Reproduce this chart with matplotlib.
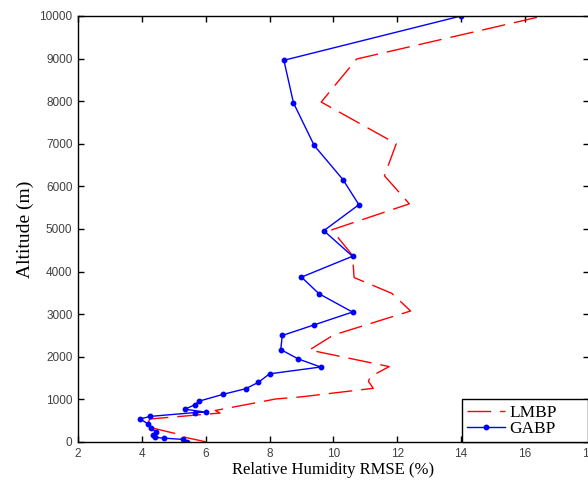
import numpy as np
import matplotlib
matplotlib.use("Agg")
import matplotlib.pyplot as plt

# LMBP (red dashed)
lmbp_x = [6.03, 5.35, 5.1, 4.15, 4.25, 6.45, 6.3, 8.2, 9.0, 11.25, 11.1, 11.15, 11.75,
          9.25, 10.0, 12.42, 11.83, 10.65, 10.6, 9.95, 12.38, 11.6, 11.97, 9.62, 10.73, 16.57]
lmbp_y = [0, 110, 190, 360, 540, 680, 740, 1010, 1060, 1260, 1420, 1530, 1770,
          2160, 2510, 3075, 3490, 3860, 4380, 4980, 5590, 6250, 7000, 7980, 8990, 10000]

# GABP (blue with dots)
gabp_x = [5.4, 5.3, 4.7, 4.4, 4.35, 4.45, 4.3, 4.2, 3.95, 4.25, 5.65, 6.0, 5.35, 5.65,
          5.8, 6.55, 7.25, 7.65, 8.0, 9.6, 8.9, 8.35, 8.4, 9.4, 10.6, 9.55, 9.0, 10.6,
          9.7, 10.8, 10.3, 9.4, 8.75, 8.45, 14.0]
gabp_y = [0, 60, 90, 110, 160, 240, 320, 420, 540, 600, 690, 700, 770, 870,
          960, 1120, 1250, 1400, 1600, 1760, 1950, 2170, 2500, 2750, 3050, 3480, 3870, 4360,
          4960, 5570, 6160, 6960, 7960, 8960, 10000]

xticks = [2, 4, 6, 8, 10, 12, 14, 16, 18]
yticks = np.arange(0, 10001, 1000)

fig = plt.figure(figsize=(5.88, 4.83), dpi=100)
ax = fig.add_axes([0.1327, 0.0849, 0.8685, 0.882])

ax.plot(lmbp_x, lmbp_y, color="red", lw=1.0, dashes=(17, 6.5), label="LMBP")
ax.plot(gabp_x, gabp_y, color="blue", lw=1.0, marker="o", ms=3.2, label="GABP")

ax.set_xlim(2, 18)
ax.set_ylim(0, 10000)
ax.set_xticks(xticks)
ax.set_yticks(yticks)
ax.tick_params(direction="in", top=True, right=True, length=4, width=1,
               labelsize=8.5, labelcolor="#404040", pad=4)
for lab in ax.get_xticklabels() + ax.get_yticklabels():
    lab.set_family("Liberation Sans")
for s in ax.spines.values():
    s.set_linewidth(1.0)

ax.set_xlabel("Relative Humidity RMSE (%)", family="Liberation Serif", fontsize=12, labelpad=2)
ax.set_ylabel("Altitude (m)", family="Liberation Serif", fontsize=14, labelpad=4)

leg = ax.legend(loc="lower left", bbox_to_anchor=(0.7513, 0, 0.2472, 0.0908), mode="expand",
                prop={"family": "Liberation Serif", "size": 12.5},
                fancybox=False, framealpha=1, edgecolor="black", borderaxespad=0,
                handlelength=2.2, handletextpad=0.25, labelspacing=0.0, borderpad=0.3)
leg.get_frame().set_linewidth(1.0)

fig.savefig("out.png", dpi=100)
